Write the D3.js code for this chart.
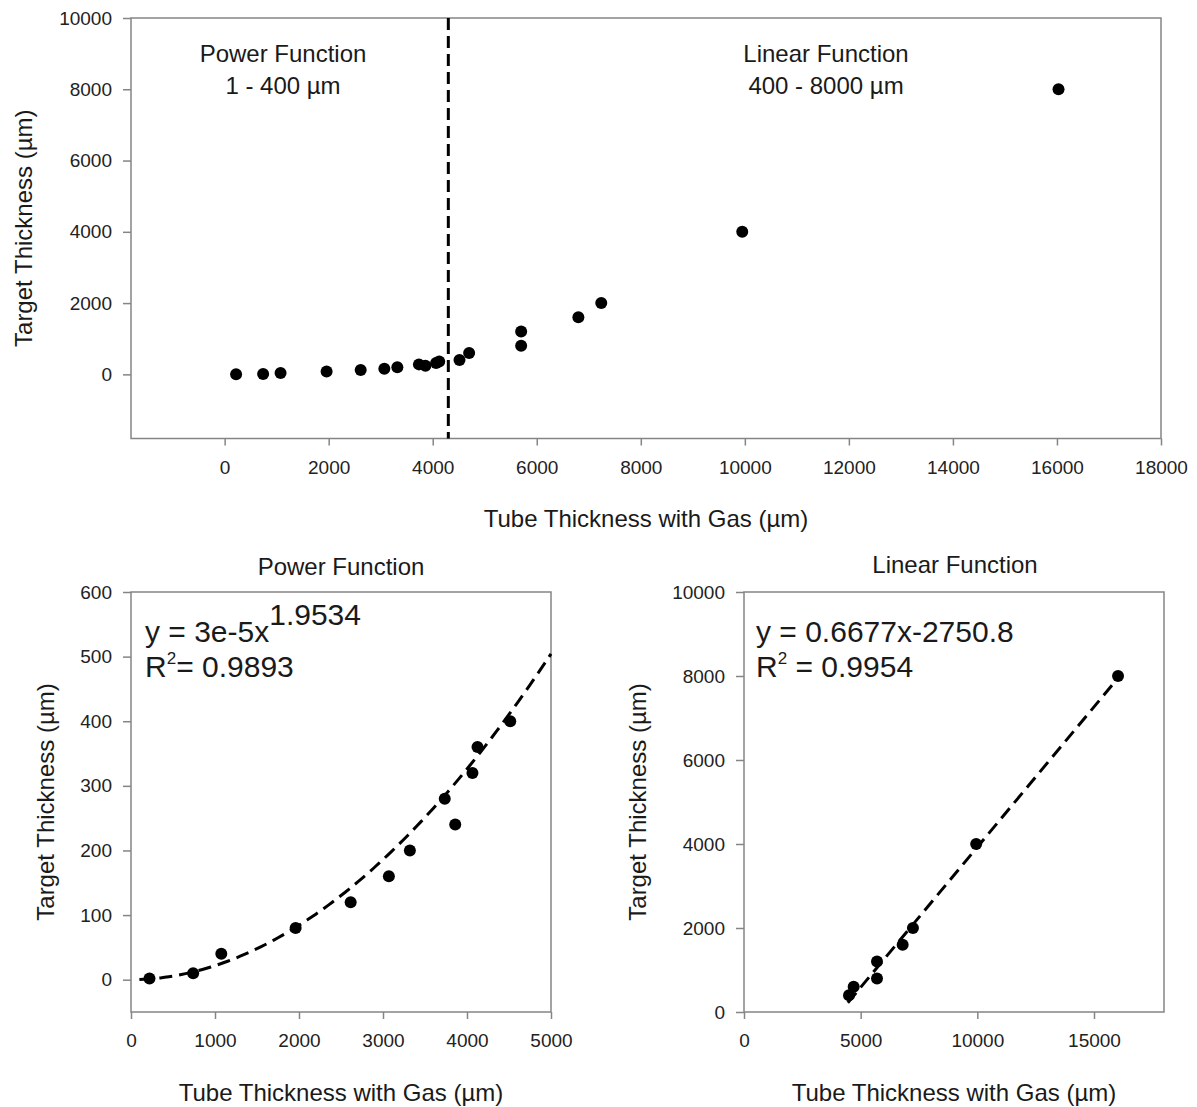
<!DOCTYPE html>
<html>
<head>
<meta charset="utf-8">
<script src="https://cdn.jsdelivr.net/npm/d3@7"></script>
<style>
    body { margin: 0; background: #fff; }
    svg { font-family: 'Liberation Sans', Arial, sans-serif; }
    .frame { fill: none; stroke: #858585; stroke-width: 1.5; }
    .axis path { display: none; }
    .axis line { stroke: #858585; stroke-width: 1.5; }
    .axis text { font-size: 19px; fill: #222; }
    .title { font-size: 24px; fill: #1a1a1a; }
    .eq { font-size: 30px; fill: #1a1a1a; }
</style>
</head>
<body>
<div class="container"></div>
<script>
// all points (tube thickness with gas, target thickness), um
const POWER_X = [220, 740, 1075, 1960, 2615, 3070, 3320, 3735, 3860, 4065, 4125, 4515];
const POWER_Y = [2, 10, 40, 80, 120, 160, 200, 280, 240, 320, 360, 400];
const LINEAR_X = [4500, 4700, 5700, 5700, 6800, 7240, 9950, 16030];
const LINEAR_Y = [400, 600, 1200, 800, 1600, 2000, 4000, 8000];

// fit parameters printed on the chart
const POW_A = 3e-5, POW_B = 1.9534;
const LIN_M = 0.6677, LIN_C = -2750.8;
const SPLIT_X = 4300;

const TOP_X_TICKS = [0, 2000, 4000, 6000, 8000, 10000, 12000, 14000, 16000, 18000];
const TOP_Y_TICKS = [0, 2000, 4000, 6000, 8000, 10000];
const POW_X_TICKS = [0, 1000, 2000, 3000, 4000, 5000];
const POW_Y_TICKS = [0, 100, 200, 300, 400, 500, 600];
const LIN_X_TICKS = [0, 5000, 10000, 15000];
const LIN_Y_TICKS = [0, 2000, 4000, 6000, 8000, 10000];

const X_TITLE = 'Tube Thickness with Gas (\u00b5m)';
const Y_TITLE = 'Target Thickness (\u00b5m)';

const WIDTH = 1197;
const HEIGHT = 1107;

let svg = d3.select('.container').append('svg')
    .attr('width', WIDTH)
    .attr('height', HEIGHT);

const toPoints = (xs, ys) => xs.map((x, i) => ({x: x, y: ys[i]}));
const allPoints = toPoints(POWER_X, POWER_Y)
    .concat(toPoints(LINEAR_X, LINEAR_Y).slice(1));

// draws frame, ticks and titles, returns the scales
const panel = function (box, xDomain, yDomain, xTicks, yTicks, yTitleX, xTitleY) {
    let xScale = d3.scaleLinear().domain(xDomain).range([box.left, box.right]);
    let yScale = d3.scaleLinear().domain(yDomain).range([box.bottom, box.top]);

    svg.append('g')
        .attr('class', 'axis')
        .attr('transform', `translate(0, ${box.bottom})`)
        .call(d3.axisBottom(xScale).tickValues(xTicks).tickSize(7).tickPadding(15).tickFormat(d3.format('d')));

    svg.append('g')
        .attr('class', 'axis')
        .attr('transform', `translate(${box.left}, 0)`)
        .call(d3.axisLeft(yScale).tickValues(yTicks).tickSize(8).tickPadding(11).tickFormat(d3.format('d')));

    svg.append('rect')
        .attr('class', 'frame')
        .attr('x', box.left)
        .attr('y', box.top)
        .attr('width', box.right - box.left)
        .attr('height', box.bottom - box.top);

    let midX = (box.left + box.right) / 2;
    let midY = (box.top + box.bottom) / 2;

    svg.append('text')
        .attr('class', 'title')
        .attr('text-anchor', 'middle')
        .attr('x', midX)
        .attr('y', xTitleY)
        .text(X_TITLE);

    svg.append('text')
        .attr('class', 'title')
        .attr('text-anchor', 'middle')
        .attr('transform', `translate(${yTitleX}, ${midY})rotate(-90)`)
        .text(Y_TITLE);

    return {x: xScale, y: yScale};
};

const dots = function (s, pts) {
    svg.append('g').selectAll('circle').data(pts)
        .enter().append('circle')
        .attr('r', 6)
        .attr('cx', p => s.x(p.x))
        .attr('cy', p => s.y(p.y))
        .attr('fill', '#000');
};

//--top overview--
let overview = panel({left: 131, right: 1161, top: 18, bottom: 438.5},
    [-1800, 18000], [-1800, 10000], TOP_X_TICKS, TOP_Y_TICKS, 32, 527);

svg.append('line')
    .attr('x1', overview.x(SPLIT_X)).attr('x2', overview.x(SPLIT_X))
    .attr('y1', overview.y(10000)).attr('y2', overview.y(-1800))
    .attr('stroke', '#000')
    .attr('stroke-width', 3)
    .attr('stroke-dasharray', '12,6');

dots(overview, allPoints);

[['Power Function', '1 - 400 \u00b5m', 283], ['Linear Function', '400 - 8000 \u00b5m', 826]]
    .forEach(t => {
        svg.append('text').attr('class', 'title').attr('text-anchor', 'middle')
            .attr('x', t[2]).attr('y', 62).text(t[0]);
        svg.append('text').attr('class', 'title').attr('text-anchor', 'middle')
            .attr('x', t[2]).attr('y', 94).text(t[1]);
    });

//--power function--
let pow = panel({left: 131, right: 551, top: 592, bottom: 1012},
    [0, 5000], [-50, 600], POW_X_TICKS, POW_Y_TICKS, 54, 1101);

svg.append('text').attr('class', 'title').attr('text-anchor', 'middle')
    .attr('x', 341).attr('y', 575).text('Power Function');

let powCurve = d3.range(100, 5001, 50).map(x => ({x: x, y: POW_A * Math.pow(x, POW_B)}));
let powLine = d3.line().x(p => pow.x(p.x)).y(p => pow.y(p.y));

svg.append('path')
    .attr('d', powLine(powCurve))
    .attr('fill', 'none')
    .attr('stroke', '#000')
    .attr('stroke-width', 3)
    .attr('stroke-dasharray', '13,7');

dots(pow, toPoints(POWER_X, POWER_Y));

let powEq = svg.append('text').attr('class', 'eq').attr('x', 145).attr('y', 642);
powEq.append('tspan').text('y = 3e-5x');
powEq.append('tspan').attr('dy', -17).text(POW_B);

let powR = svg.append('text').attr('class', 'eq').attr('x', 145).attr('y', 677);
powR.append('tspan').text('R');
powR.append('tspan').attr('dy', -13).attr('font-size', 17).text('2');
powR.append('tspan').attr('dy', 13).text('= 0.9893');

//--linear function--
let lin = panel({left: 744, right: 1164, top: 592, bottom: 1012},
    [0, 18000], [0, 10000], LIN_X_TICKS, LIN_Y_TICKS, 646, 1101);

svg.append('text').attr('class', 'title').attr('text-anchor', 'middle')
    .attr('x', 955).attr('y', 573).text('Linear Function');

let linFit = [4450, 16030].map(x => ({x: x, y: LIN_M * x + LIN_C}));
let linLine = d3.line().x(p => lin.x(p.x)).y(p => lin.y(p.y));

svg.append('path')
    .attr('d', linLine(linFit))
    .attr('fill', 'none')
    .attr('stroke', '#000')
    .attr('stroke-width', 3)
    .attr('stroke-dasharray', '13,7');

dots(lin, toPoints(LINEAR_X, LINEAR_Y));

svg.append('text').attr('class', 'eq').attr('x', 756).attr('y', 642)
    .text('y = 0.6677x-2750.8');

let linR = svg.append('text').attr('class', 'eq').attr('x', 756).attr('y', 677);
linR.append('tspan').text('R');
linR.append('tspan').attr('dy', -13).attr('font-size', 17).text('2');
linR.append('tspan').attr('dy', 13).text(' = 0.9954');
</script>
</body>
</html>
